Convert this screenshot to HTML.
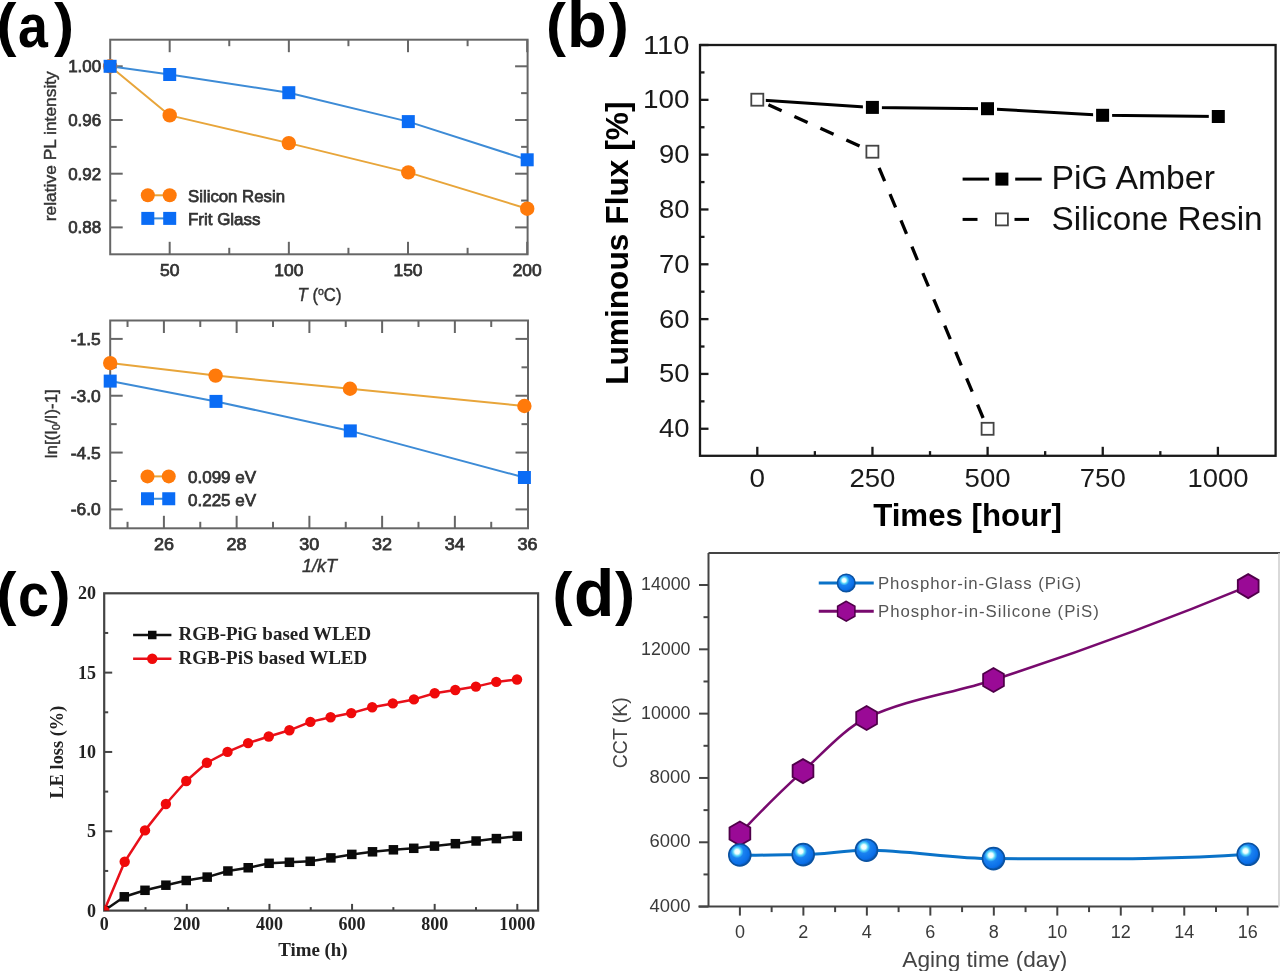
<!DOCTYPE html>
<html><head><meta charset="utf-8"><style>html,body{margin:0;padding:0;background:#fff;width:1280px;height:971px;overflow:hidden}svg{display:block;filter:blur(0.5px)}</style></head>
<body><svg width="1280" height="971" viewBox="0 0 1280 971"><defs><clipPath id="clipc"><rect x="104.2" y="593.3" width="433.9" height="317.3"/></clipPath><radialGradient id="sph" cx="0.38" cy="0.35" r="0.65">
<stop offset="0" stop-color="#ffffff"/><stop offset="0.16" stop-color="#e8ffff"/><stop offset="0.3" stop-color="#50d0f8"/><stop offset="0.45" stop-color="#1a82f0"/><stop offset="0.85" stop-color="#0a6ee8"/><stop offset="1" stop-color="#0a58b8"/></radialGradient></defs>
<text transform="translate(-3.6,45.4) scale(1.0,1)" font-family="Liberation Sans" font-weight="bold" font-size="60" fill="#000">(</text>
<text transform="translate(17.9,47.3) scale(0.88,1)" font-family="Liberation Sans" font-weight="bold" font-size="61" fill="#000">a</text>
<text transform="translate(53.9,45.4) scale(1.0,1)" font-family="Liberation Sans" font-weight="bold" font-size="60" fill="#000">)</text>
<text transform="translate(546,45.4) scale(1.0,1)" font-family="Liberation Sans" font-weight="bold" font-size="60" fill="#000">(</text>
<text transform="translate(567,46.9) scale(1.0,1)" font-family="Liberation Sans" font-weight="bold" font-size="65" fill="#000">b</text>
<text transform="translate(608.75,45.4) scale(1.0,1)" font-family="Liberation Sans" font-weight="bold" font-size="60" fill="#000">)</text>
<text transform="translate(-3.6,614.3) scale(1.0,1)" font-family="Liberation Sans" font-weight="bold" font-size="60" fill="#000">(</text>
<text transform="translate(18.1,616.3) scale(0.9,1)" font-family="Liberation Sans" font-weight="bold" font-size="62" fill="#000">c</text>
<text transform="translate(50.4,614.3) scale(1.0,1)" font-family="Liberation Sans" font-weight="bold" font-size="60" fill="#000">)</text>
<text transform="translate(552.5,614.3) scale(1.0,1)" font-family="Liberation Sans" font-weight="bold" font-size="60" fill="#000">(</text>
<text transform="translate(574,615.9) scale(1.0,1)" font-family="Liberation Sans" font-weight="bold" font-size="66" fill="#000">d</text>
<text transform="translate(615,614.3) scale(1.0,1)" font-family="Liberation Sans" font-weight="bold" font-size="60" fill="#000">)</text>
<rect x="110.2" y="39.7" width="417.4" height="214.6" fill="none" stroke="#666" stroke-width="2"/>
<line x1="169.68" y1="254.3" x2="169.68" y2="241.8" stroke="#666" stroke-width="2" />
<line x1="169.68" y1="39.7" x2="169.68" y2="52.2" stroke="#666" stroke-width="2" />
<line x1="288.85" y1="254.3" x2="288.85" y2="241.8" stroke="#666" stroke-width="2" />
<line x1="288.85" y1="39.7" x2="288.85" y2="52.2" stroke="#666" stroke-width="2" />
<line x1="408.01" y1="254.3" x2="408.01" y2="241.8" stroke="#666" stroke-width="2" />
<line x1="408.01" y1="39.7" x2="408.01" y2="52.2" stroke="#666" stroke-width="2" />
<line x1="527.18" y1="254.3" x2="527.18" y2="241.8" stroke="#666" stroke-width="2" />
<line x1="527.18" y1="39.7" x2="527.18" y2="52.2" stroke="#666" stroke-width="2" />
<line x1="229.26" y1="254.3" x2="229.26" y2="247.8" stroke="#666" stroke-width="2" />
<line x1="229.26" y1="39.7" x2="229.26" y2="46.2" stroke="#666" stroke-width="2" />
<line x1="348.43" y1="254.3" x2="348.43" y2="247.8" stroke="#666" stroke-width="2" />
<line x1="348.43" y1="39.7" x2="348.43" y2="46.2" stroke="#666" stroke-width="2" />
<line x1="467.6" y1="254.3" x2="467.6" y2="247.8" stroke="#666" stroke-width="2" />
<line x1="467.6" y1="39.7" x2="467.6" y2="46.2" stroke="#666" stroke-width="2" />
<line x1="110.2" y1="227.4" x2="122.7" y2="227.4" stroke="#666" stroke-width="2" />
<line x1="527.6" y1="227.4" x2="515.1" y2="227.4" stroke="#666" stroke-width="2" />
<line x1="110.2" y1="173.7" x2="122.7" y2="173.7" stroke="#666" stroke-width="2" />
<line x1="527.6" y1="173.7" x2="515.1" y2="173.7" stroke="#666" stroke-width="2" />
<line x1="110.2" y1="120" x2="122.7" y2="120" stroke="#666" stroke-width="2" />
<line x1="527.6" y1="120" x2="515.1" y2="120" stroke="#666" stroke-width="2" />
<line x1="110.2" y1="66.3" x2="122.7" y2="66.3" stroke="#666" stroke-width="2" />
<line x1="527.6" y1="66.3" x2="515.1" y2="66.3" stroke="#666" stroke-width="2" />
<line x1="110.2" y1="200.55" x2="116.7" y2="200.55" stroke="#666" stroke-width="2" />
<line x1="527.6" y1="200.55" x2="521.1" y2="200.55" stroke="#666" stroke-width="2" />
<line x1="110.2" y1="146.85" x2="116.7" y2="146.85" stroke="#666" stroke-width="2" />
<line x1="527.6" y1="146.85" x2="521.1" y2="146.85" stroke="#666" stroke-width="2" />
<line x1="110.2" y1="93.15" x2="116.7" y2="93.15" stroke="#666" stroke-width="2" />
<line x1="527.6" y1="93.15" x2="521.1" y2="93.15" stroke="#666" stroke-width="2" />
<text x="101.2" y="233.4" font-family="Liberation Sans" font-size="16.8" fill="#333" text-anchor="end" font-weight="normal" textLength="33" lengthAdjust="spacingAndGlyphs" stroke="#333" stroke-width="0.75">0.88</text>
<text x="101.2" y="179.7" font-family="Liberation Sans" font-size="16.8" fill="#333" text-anchor="end" font-weight="normal" textLength="33" lengthAdjust="spacingAndGlyphs" stroke="#333" stroke-width="0.75">0.92</text>
<text x="101.2" y="126" font-family="Liberation Sans" font-size="16.8" fill="#333" text-anchor="end" font-weight="normal" textLength="33" lengthAdjust="spacingAndGlyphs" stroke="#333" stroke-width="0.75">0.96</text>
<text x="101.2" y="72.3" font-family="Liberation Sans" font-size="16.8" fill="#333" text-anchor="end" font-weight="normal" textLength="33" lengthAdjust="spacingAndGlyphs" stroke="#333" stroke-width="0.75">1.00</text>
<text x="169.68" y="275.5" font-family="Liberation Sans" font-size="16.8" fill="#333" text-anchor="middle" font-weight="normal" textLength="19.5" lengthAdjust="spacingAndGlyphs" stroke="#333" stroke-width="0.75">50</text>
<text x="288.85" y="275.5" font-family="Liberation Sans" font-size="16.8" fill="#333" text-anchor="middle" font-weight="normal" textLength="29" lengthAdjust="spacingAndGlyphs" stroke="#333" stroke-width="0.75">100</text>
<text x="408.01" y="275.5" font-family="Liberation Sans" font-size="16.8" fill="#333" text-anchor="middle" font-weight="normal" textLength="29" lengthAdjust="spacingAndGlyphs" stroke="#333" stroke-width="0.75">150</text>
<text x="527.18" y="275.5" font-family="Liberation Sans" font-size="16.8" fill="#333" text-anchor="middle" font-weight="normal" textLength="29" lengthAdjust="spacingAndGlyphs" stroke="#333" stroke-width="0.75">200</text>
<text x="297.5" y="301" font-family="Liberation Sans" font-size="17.5" fill="#333" stroke="#333" stroke-width="0.4" textLength="44" lengthAdjust="spacingAndGlyphs"><tspan font-style="italic">T</tspan> (<tspan font-size="11" dy="-6">o</tspan><tspan dy="6">C)</tspan></text>
<text transform="translate(55.5,146.2) rotate(-90)" x="0" y="0" font-family="Liberation Sans" font-size="16" fill="#333" text-anchor="middle" font-weight="normal" textLength="150" lengthAdjust="spacingAndGlyphs" stroke="#333" stroke-width="0.4">relative PL intensity</text>
<polyline points="110.1,66.3 169.7,115.4 288.8,143.1 408.3,172.4 527.2,208.7" fill="none" stroke="#e8a53a" stroke-width="2" stroke-linejoin="round" />
<polyline points="110.1,66.3 169.7,74.5 288.8,92.7 408.3,121.6 527.2,159.8" fill="none" stroke="#3d8bd6" stroke-width="2" stroke-linejoin="round" />
<circle cx="110.1" cy="66.3" r="7.2" fill="#ff7a0a" stroke="none" stroke-width="0" />
<circle cx="169.7" cy="115.4" r="7.2" fill="#ff7a0a" stroke="none" stroke-width="0" />
<circle cx="288.8" cy="143.1" r="7.2" fill="#ff7a0a" stroke="none" stroke-width="0" />
<circle cx="408.3" cy="172.4" r="7.2" fill="#ff7a0a" stroke="none" stroke-width="0" />
<circle cx="527.2" cy="208.7" r="7.2" fill="#ff7a0a" stroke="none" stroke-width="0" />
<rect x="103.6" y="59.8" width="13" height="13" fill="#0a6cf5" stroke="none" stroke-width="0"/>
<rect x="163.2" y="68" width="13" height="13" fill="#0a6cf5" stroke="none" stroke-width="0"/>
<rect x="282.3" y="86.2" width="13" height="13" fill="#0a6cf5" stroke="none" stroke-width="0"/>
<rect x="401.8" y="115.1" width="13" height="13" fill="#0a6cf5" stroke="none" stroke-width="0"/>
<rect x="520.7" y="153.3" width="13" height="13" fill="#0a6cf5" stroke="none" stroke-width="0"/>
<line x1="147.8" y1="195.3" x2="169.7" y2="195.3" stroke="#e8a53a" stroke-width="2" />
<circle cx="147.8" cy="195.3" r="7" fill="#ff7a0a" stroke="none" stroke-width="0" />
<circle cx="169.7" cy="195.3" r="7" fill="#ff7a0a" stroke="none" stroke-width="0" />
<line x1="147.8" y1="218.4" x2="169.7" y2="218.4" stroke="#3d8bd6" stroke-width="2" />
<rect x="141.3" y="211.9" width="13" height="13" fill="#0a6cf5" stroke="none" stroke-width="0"/>
<rect x="163.2" y="211.9" width="13" height="13" fill="#0a6cf5" stroke="none" stroke-width="0"/>
<text x="188" y="202" font-family="Liberation Sans" font-size="17" fill="#333" text-anchor="start" font-weight="normal" textLength="97" lengthAdjust="spacingAndGlyphs" stroke="#333" stroke-width="0.75">Silicon Resin</text>
<text x="188" y="225" font-family="Liberation Sans" font-size="17" fill="#333" text-anchor="start" font-weight="normal" textLength="72.5" lengthAdjust="spacingAndGlyphs" stroke="#333" stroke-width="0.75">Frit Glass</text>
<rect x="110.2" y="320.5" width="417.8" height="207.8" fill="none" stroke="#666" stroke-width="2"/>
<line x1="163.9" y1="528.3" x2="163.9" y2="515.8" stroke="#666" stroke-width="2" />
<line x1="163.9" y1="320.5" x2="163.9" y2="333" stroke="#666" stroke-width="2" />
<line x1="236.64" y1="528.3" x2="236.64" y2="515.8" stroke="#666" stroke-width="2" />
<line x1="236.64" y1="320.5" x2="236.64" y2="333" stroke="#666" stroke-width="2" />
<line x1="309.38" y1="528.3" x2="309.38" y2="515.8" stroke="#666" stroke-width="2" />
<line x1="309.38" y1="320.5" x2="309.38" y2="333" stroke="#666" stroke-width="2" />
<line x1="382.12" y1="528.3" x2="382.12" y2="515.8" stroke="#666" stroke-width="2" />
<line x1="382.12" y1="320.5" x2="382.12" y2="333" stroke="#666" stroke-width="2" />
<line x1="454.86" y1="528.3" x2="454.86" y2="515.8" stroke="#666" stroke-width="2" />
<line x1="454.86" y1="320.5" x2="454.86" y2="333" stroke="#666" stroke-width="2" />
<line x1="127.53" y1="528.3" x2="127.53" y2="521.8" stroke="#666" stroke-width="2" />
<line x1="127.53" y1="320.5" x2="127.53" y2="327" stroke="#666" stroke-width="2" />
<line x1="200.27" y1="528.3" x2="200.27" y2="521.8" stroke="#666" stroke-width="2" />
<line x1="200.27" y1="320.5" x2="200.27" y2="327" stroke="#666" stroke-width="2" />
<line x1="273.01" y1="528.3" x2="273.01" y2="521.8" stroke="#666" stroke-width="2" />
<line x1="273.01" y1="320.5" x2="273.01" y2="327" stroke="#666" stroke-width="2" />
<line x1="345.75" y1="528.3" x2="345.75" y2="521.8" stroke="#666" stroke-width="2" />
<line x1="345.75" y1="320.5" x2="345.75" y2="327" stroke="#666" stroke-width="2" />
<line x1="418.49" y1="528.3" x2="418.49" y2="521.8" stroke="#666" stroke-width="2" />
<line x1="418.49" y1="320.5" x2="418.49" y2="327" stroke="#666" stroke-width="2" />
<line x1="491.23" y1="528.3" x2="491.23" y2="521.8" stroke="#666" stroke-width="2" />
<line x1="491.23" y1="320.5" x2="491.23" y2="327" stroke="#666" stroke-width="2" />
<line x1="110.2" y1="338.9" x2="122.7" y2="338.9" stroke="#666" stroke-width="2" />
<line x1="528" y1="338.9" x2="515.5" y2="338.9" stroke="#666" stroke-width="2" />
<line x1="110.2" y1="395.73" x2="122.7" y2="395.73" stroke="#666" stroke-width="2" />
<line x1="528" y1="395.73" x2="515.5" y2="395.73" stroke="#666" stroke-width="2" />
<line x1="110.2" y1="452.57" x2="122.7" y2="452.57" stroke="#666" stroke-width="2" />
<line x1="528" y1="452.57" x2="515.5" y2="452.57" stroke="#666" stroke-width="2" />
<line x1="110.2" y1="509.4" x2="122.7" y2="509.4" stroke="#666" stroke-width="2" />
<line x1="528" y1="509.4" x2="515.5" y2="509.4" stroke="#666" stroke-width="2" />
<line x1="110.2" y1="367.32" x2="116.7" y2="367.32" stroke="#666" stroke-width="2" />
<line x1="528" y1="367.32" x2="521.5" y2="367.32" stroke="#666" stroke-width="2" />
<line x1="110.2" y1="424.15" x2="116.7" y2="424.15" stroke="#666" stroke-width="2" />
<line x1="528" y1="424.15" x2="521.5" y2="424.15" stroke="#666" stroke-width="2" />
<line x1="110.2" y1="480.99" x2="116.7" y2="480.99" stroke="#666" stroke-width="2" />
<line x1="528" y1="480.99" x2="521.5" y2="480.99" stroke="#666" stroke-width="2" />
<text x="100.8" y="344.9" font-family="Liberation Sans" font-size="16.8" fill="#333" text-anchor="end" font-weight="normal" textLength="30" lengthAdjust="spacingAndGlyphs" stroke="#333" stroke-width="0.75">-1.5</text>
<text x="100.8" y="401.73" font-family="Liberation Sans" font-size="16.8" fill="#333" text-anchor="end" font-weight="normal" textLength="30" lengthAdjust="spacingAndGlyphs" stroke="#333" stroke-width="0.75">-3.0</text>
<text x="100.8" y="458.57" font-family="Liberation Sans" font-size="16.8" fill="#333" text-anchor="end" font-weight="normal" textLength="30" lengthAdjust="spacingAndGlyphs" stroke="#333" stroke-width="0.75">-4.5</text>
<text x="100.8" y="515.4" font-family="Liberation Sans" font-size="16.8" fill="#333" text-anchor="end" font-weight="normal" textLength="30" lengthAdjust="spacingAndGlyphs" stroke="#333" stroke-width="0.75">-6.0</text>
<text x="163.9" y="549.8" font-family="Liberation Sans" font-size="16.8" fill="#333" text-anchor="middle" font-weight="normal" textLength="20" lengthAdjust="spacingAndGlyphs" stroke="#333" stroke-width="0.75">26</text>
<text x="236.64" y="549.8" font-family="Liberation Sans" font-size="16.8" fill="#333" text-anchor="middle" font-weight="normal" textLength="20" lengthAdjust="spacingAndGlyphs" stroke="#333" stroke-width="0.75">28</text>
<text x="309.38" y="549.8" font-family="Liberation Sans" font-size="16.8" fill="#333" text-anchor="middle" font-weight="normal" textLength="20" lengthAdjust="spacingAndGlyphs" stroke="#333" stroke-width="0.75">30</text>
<text x="382.12" y="549.8" font-family="Liberation Sans" font-size="16.8" fill="#333" text-anchor="middle" font-weight="normal" textLength="20" lengthAdjust="spacingAndGlyphs" stroke="#333" stroke-width="0.75">32</text>
<text x="454.86" y="549.8" font-family="Liberation Sans" font-size="16.8" fill="#333" text-anchor="middle" font-weight="normal" textLength="20" lengthAdjust="spacingAndGlyphs" stroke="#333" stroke-width="0.75">34</text>
<text x="527.6" y="549.8" font-family="Liberation Sans" font-size="16.8" fill="#333" text-anchor="middle" font-weight="normal" textLength="20" lengthAdjust="spacingAndGlyphs" stroke="#333" stroke-width="0.75">36</text>
<text x="302" y="572" font-family="Liberation Sans" font-style="italic" font-size="17.5" fill="#333" stroke="#333" stroke-width="0.4" textLength="35" lengthAdjust="spacingAndGlyphs">1/kT</text>
<text transform="translate(56.5,423.7) rotate(-90)" text-anchor="middle" font-family="Liberation Sans" font-size="16" fill="#333" stroke="#333" stroke-width="0.4" textLength="69" lengthAdjust="spacingAndGlyphs">ln[(I<tspan font-size="10" dy="3">0</tspan><tspan dy="-3">/I)-1]</tspan></text>
<polyline points="110.2,363.1 215.6,375.6 350,388.75 524.4,406" fill="none" stroke="#e8a53a" stroke-width="2" stroke-linejoin="round" />
<polyline points="110.2,381.1 216,401.4 350.3,430.9 524.4,477.5" fill="none" stroke="#3d8bd6" stroke-width="2" stroke-linejoin="round" />
<circle cx="110.2" cy="363.1" r="7.2" fill="#ff7a0a" stroke="none" stroke-width="0" />
<circle cx="215.6" cy="375.6" r="7.2" fill="#ff7a0a" stroke="none" stroke-width="0" />
<circle cx="350" cy="388.75" r="7.2" fill="#ff7a0a" stroke="none" stroke-width="0" />
<circle cx="524.4" cy="406" r="7.2" fill="#ff7a0a" stroke="none" stroke-width="0" />
<rect x="103.7" y="374.6" width="13" height="13" fill="#0a6cf5" stroke="none" stroke-width="0"/>
<rect x="209.5" y="394.9" width="13" height="13" fill="#0a6cf5" stroke="none" stroke-width="0"/>
<rect x="343.8" y="424.4" width="13" height="13" fill="#0a6cf5" stroke="none" stroke-width="0"/>
<rect x="517.9" y="471" width="13" height="13" fill="#0a6cf5" stroke="none" stroke-width="0"/>
<line x1="147.5" y1="476.4" x2="168.75" y2="476.4" stroke="#e8a53a" stroke-width="2" />
<circle cx="147.5" cy="476.4" r="7" fill="#ff7a0a" stroke="none" stroke-width="0" />
<circle cx="168.75" cy="476.4" r="7" fill="#ff7a0a" stroke="none" stroke-width="0" />
<line x1="147.5" y1="498.75" x2="168.75" y2="498.75" stroke="#3d8bd6" stroke-width="2" />
<rect x="141" y="492.25" width="13" height="13" fill="#0a6cf5" stroke="none" stroke-width="0"/>
<rect x="162.25" y="492.25" width="13" height="13" fill="#0a6cf5" stroke="none" stroke-width="0"/>
<text x="188" y="483" font-family="Liberation Sans" font-size="17" fill="#333" text-anchor="start" font-weight="normal" stroke="#333" stroke-width="0.75">0.099 eV</text>
<text x="188" y="505.5" font-family="Liberation Sans" font-size="17" fill="#333" text-anchor="start" font-weight="normal" stroke="#333" stroke-width="0.75">0.225 eV</text>
<rect x="700" y="45" width="575.6" height="410.8" fill="none" stroke="#1a1a1a" stroke-width="2.3"/>
<line x1="757.3" y1="455.8" x2="757.3" y2="446.8" stroke="#1a1a1a" stroke-width="2.3" />
<line x1="872.45" y1="455.8" x2="872.45" y2="446.8" stroke="#1a1a1a" stroke-width="2.3" />
<line x1="987.6" y1="455.8" x2="987.6" y2="446.8" stroke="#1a1a1a" stroke-width="2.3" />
<line x1="1102.75" y1="455.8" x2="1102.75" y2="446.8" stroke="#1a1a1a" stroke-width="2.3" />
<line x1="1217.9" y1="455.8" x2="1217.9" y2="446.8" stroke="#1a1a1a" stroke-width="2.3" />
<line x1="814.88" y1="455.8" x2="814.88" y2="451.1" stroke="#1a1a1a" stroke-width="2.3" />
<line x1="930.02" y1="455.8" x2="930.02" y2="451.1" stroke="#1a1a1a" stroke-width="2.3" />
<line x1="1045.17" y1="455.8" x2="1045.17" y2="451.1" stroke="#1a1a1a" stroke-width="2.3" />
<line x1="1160.33" y1="455.8" x2="1160.33" y2="451.1" stroke="#1a1a1a" stroke-width="2.3" />
<line x1="700" y1="428.75" x2="708.5" y2="428.75" stroke="#1a1a1a" stroke-width="2.3" />
<line x1="700" y1="373.93" x2="708.5" y2="373.93" stroke="#1a1a1a" stroke-width="2.3" />
<line x1="700" y1="319.11" x2="708.5" y2="319.11" stroke="#1a1a1a" stroke-width="2.3" />
<line x1="700" y1="264.29" x2="708.5" y2="264.29" stroke="#1a1a1a" stroke-width="2.3" />
<line x1="700" y1="209.47" x2="708.5" y2="209.47" stroke="#1a1a1a" stroke-width="2.3" />
<line x1="700" y1="154.65" x2="708.5" y2="154.65" stroke="#1a1a1a" stroke-width="2.3" />
<line x1="700" y1="99.83" x2="708.5" y2="99.83" stroke="#1a1a1a" stroke-width="2.3" />
<line x1="700" y1="45.01" x2="708.5" y2="45.01" stroke="#1a1a1a" stroke-width="2.3" />
<line x1="700" y1="401.34" x2="704.5" y2="401.34" stroke="#1a1a1a" stroke-width="2.3" />
<line x1="700" y1="346.52" x2="704.5" y2="346.52" stroke="#1a1a1a" stroke-width="2.3" />
<line x1="700" y1="291.7" x2="704.5" y2="291.7" stroke="#1a1a1a" stroke-width="2.3" />
<line x1="700" y1="236.88" x2="704.5" y2="236.88" stroke="#1a1a1a" stroke-width="2.3" />
<line x1="700" y1="182.06" x2="704.5" y2="182.06" stroke="#1a1a1a" stroke-width="2.3" />
<line x1="700" y1="127.24" x2="704.5" y2="127.24" stroke="#1a1a1a" stroke-width="2.3" />
<line x1="700" y1="72.42" x2="704.5" y2="72.42" stroke="#1a1a1a" stroke-width="2.3" />
<text x="689.5" y="437.25" font-family="Liberation Sans" font-size="26.5" fill="#1a1a1a" text-anchor="end" font-weight="normal" textLength="30.5" lengthAdjust="spacingAndGlyphs" >40</text>
<text x="689.5" y="382.43" font-family="Liberation Sans" font-size="26.5" fill="#1a1a1a" text-anchor="end" font-weight="normal" textLength="30.5" lengthAdjust="spacingAndGlyphs" >50</text>
<text x="689.5" y="327.61" font-family="Liberation Sans" font-size="26.5" fill="#1a1a1a" text-anchor="end" font-weight="normal" textLength="30.5" lengthAdjust="spacingAndGlyphs" >60</text>
<text x="689.5" y="272.79" font-family="Liberation Sans" font-size="26.5" fill="#1a1a1a" text-anchor="end" font-weight="normal" textLength="30.5" lengthAdjust="spacingAndGlyphs" >70</text>
<text x="689.5" y="217.97" font-family="Liberation Sans" font-size="26.5" fill="#1a1a1a" text-anchor="end" font-weight="normal" textLength="30.5" lengthAdjust="spacingAndGlyphs" >80</text>
<text x="689.5" y="163.15" font-family="Liberation Sans" font-size="26.5" fill="#1a1a1a" text-anchor="end" font-weight="normal" textLength="30.5" lengthAdjust="spacingAndGlyphs" >90</text>
<text x="689.5" y="108.33" font-family="Liberation Sans" font-size="26.5" fill="#1a1a1a" text-anchor="end" font-weight="normal" textLength="46.5" lengthAdjust="spacingAndGlyphs" >100</text>
<text x="689.5" y="53.51" font-family="Liberation Sans" font-size="26.5" fill="#1a1a1a" text-anchor="end" font-weight="normal" textLength="46.5" lengthAdjust="spacingAndGlyphs" >110</text>
<text x="757.3" y="486.5" font-family="Liberation Sans" font-size="26.5" fill="#1a1a1a" text-anchor="middle" font-weight="normal" textLength="15.5" lengthAdjust="spacingAndGlyphs" >0</text>
<text x="872.45" y="486.5" font-family="Liberation Sans" font-size="26.5" fill="#1a1a1a" text-anchor="middle" font-weight="normal" textLength="46" lengthAdjust="spacingAndGlyphs" >250</text>
<text x="987.6" y="486.5" font-family="Liberation Sans" font-size="26.5" fill="#1a1a1a" text-anchor="middle" font-weight="normal" textLength="46" lengthAdjust="spacingAndGlyphs" >500</text>
<text x="1102.75" y="486.5" font-family="Liberation Sans" font-size="26.5" fill="#1a1a1a" text-anchor="middle" font-weight="normal" textLength="46" lengthAdjust="spacingAndGlyphs" >750</text>
<text x="1217.9" y="486.5" font-family="Liberation Sans" font-size="26.5" fill="#1a1a1a" text-anchor="middle" font-weight="normal" textLength="61" lengthAdjust="spacingAndGlyphs" >1000</text>
<text x="967.5" y="526" font-family="Liberation Sans" font-size="31" fill="#000" text-anchor="middle" font-weight="bold" textLength="188.7" lengthAdjust="spacingAndGlyphs" >Times [hour]</text>
<text transform="translate(627.5,243.2) rotate(-90)" x="0" y="0" font-family="Liberation Sans" font-size="30.5" fill="#000" text-anchor="middle" font-weight="bold" textLength="283.5" lengthAdjust="spacingAndGlyphs" >Luminous Flux [%]</text>
<polyline points="757.3,99.7 872.4,107.4 987.5,108.7 1102.6,115.3 1218.3,116.5" fill="none" stroke="#000" stroke-width="3" stroke-linejoin="round" />
<line x1="757.3" y1="99.7" x2="872.4" y2="151.7" stroke="#000" stroke-width="3.3" stroke-dasharray="14.5 14" stroke-dashoffset="16.3"/>
<line x1="872.4" y1="151.7" x2="987.6" y2="428.8" stroke="#000" stroke-width="3.3" stroke-dasharray="14.5 14" stroke-dashoffset="11.1"/>
<rect x="862.9" y="97.9" width="19" height="19" fill="#fff" stroke="none" stroke-width="0"/>
<rect x="865.9" y="100.9" width="13" height="13" fill="#000" stroke="none" stroke-width="0"/>
<rect x="978" y="99.2" width="19" height="19" fill="#fff" stroke="none" stroke-width="0"/>
<rect x="981" y="102.2" width="13" height="13" fill="#000" stroke="none" stroke-width="0"/>
<rect x="1093.1" y="105.8" width="19" height="19" fill="#fff" stroke="none" stroke-width="0"/>
<rect x="1096.1" y="108.8" width="13" height="13" fill="#000" stroke="none" stroke-width="0"/>
<rect x="1208.8" y="107" width="19" height="19" fill="#fff" stroke="none" stroke-width="0"/>
<rect x="1211.8" y="110" width="13" height="13" fill="#000" stroke="none" stroke-width="0"/>
<rect x="748.8" y="91.2" width="17" height="17" fill="#fff" stroke="none" stroke-width="0"/>
<rect x="751.3" y="93.7" width="12" height="12" fill="#fff" stroke="#444" stroke-width="1.8"/>
<rect x="863.9" y="143.2" width="17" height="17" fill="#fff" stroke="none" stroke-width="0"/>
<rect x="866.4" y="145.7" width="12" height="12" fill="#fff" stroke="#444" stroke-width="1.8"/>
<rect x="979.1" y="420.3" width="17" height="17" fill="#fff" stroke="none" stroke-width="0"/>
<rect x="981.6" y="422.8" width="12" height="12" fill="#fff" stroke="#444" stroke-width="1.8"/>
<line x1="962.6" y1="179.1" x2="989.1" y2="179.1" stroke="#000" stroke-width="3" />
<line x1="1015.2" y1="179.1" x2="1041.7" y2="179.1" stroke="#000" stroke-width="3" />
<rect x="995.4" y="172.6" width="13" height="13" fill="#000" stroke="none" stroke-width="0"/>
<line x1="962.6" y1="219.4" x2="977.5" y2="219.4" stroke="#000" stroke-width="3" />
<line x1="1014.5" y1="219.4" x2="1029" y2="219.4" stroke="#000" stroke-width="3" />
<rect x="995.9" y="213.4" width="12" height="12" fill="#fff" stroke="#444" stroke-width="1.8"/>
<text x="1051.6" y="189.4" font-family="Liberation Sans" font-size="33.5" fill="#111" text-anchor="start" font-weight="normal" textLength="163.3" lengthAdjust="spacingAndGlyphs" >PiG Amber</text>
<text x="1051.6" y="230" font-family="Liberation Sans" font-size="33.5" fill="#111" text-anchor="start" font-weight="normal" textLength="211" lengthAdjust="spacingAndGlyphs" >Silicone Resin</text>
<rect x="104.2" y="593.3" width="433.9" height="317.3" fill="none" stroke="#444" stroke-width="2.2"/>
<line x1="186.82" y1="910.6" x2="186.82" y2="903.9" stroke="#444" stroke-width="2" />
<line x1="269.44" y1="910.6" x2="269.44" y2="903.9" stroke="#444" stroke-width="2" />
<line x1="352.06" y1="910.6" x2="352.06" y2="903.9" stroke="#444" stroke-width="2" />
<line x1="434.68" y1="910.6" x2="434.68" y2="903.9" stroke="#444" stroke-width="2" />
<line x1="517.3" y1="910.6" x2="517.3" y2="903.9" stroke="#444" stroke-width="2" />
<line x1="145.51" y1="910.6" x2="145.51" y2="907.1" stroke="#444" stroke-width="2" />
<line x1="228.13" y1="910.6" x2="228.13" y2="907.1" stroke="#444" stroke-width="2" />
<line x1="310.75" y1="910.6" x2="310.75" y2="907.1" stroke="#444" stroke-width="2" />
<line x1="393.37" y1="910.6" x2="393.37" y2="907.1" stroke="#444" stroke-width="2" />
<line x1="475.99" y1="910.6" x2="475.99" y2="907.1" stroke="#444" stroke-width="2" />
<line x1="104.2" y1="831.27" x2="112.2" y2="831.27" stroke="#444" stroke-width="2" />
<line x1="104.2" y1="751.95" x2="112.2" y2="751.95" stroke="#444" stroke-width="2" />
<line x1="104.2" y1="672.62" x2="112.2" y2="672.62" stroke="#444" stroke-width="2" />
<line x1="104.2" y1="870.94" x2="108.2" y2="870.94" stroke="#444" stroke-width="2" />
<line x1="104.2" y1="791.61" x2="108.2" y2="791.61" stroke="#444" stroke-width="2" />
<line x1="104.2" y1="712.29" x2="108.2" y2="712.29" stroke="#444" stroke-width="2" />
<line x1="104.2" y1="632.96" x2="108.2" y2="632.96" stroke="#444" stroke-width="2" />
<text x="96" y="916.6" font-family="Liberation Serif" font-size="18" fill="#222" text-anchor="end" font-weight="bold" >0</text>
<text x="96" y="837.27" font-family="Liberation Serif" font-size="18" fill="#222" text-anchor="end" font-weight="bold" >5</text>
<text x="96" y="757.95" font-family="Liberation Serif" font-size="18" fill="#222" text-anchor="end" font-weight="bold" >10</text>
<text x="96" y="678.62" font-family="Liberation Serif" font-size="18" fill="#222" text-anchor="end" font-weight="bold" >15</text>
<text x="96" y="599.3" font-family="Liberation Serif" font-size="18" fill="#222" text-anchor="end" font-weight="bold" >20</text>
<text x="104.2" y="930.3" font-family="Liberation Serif" font-size="18" fill="#222" text-anchor="middle" font-weight="bold" >0</text>
<text x="186.82" y="930.3" font-family="Liberation Serif" font-size="18" fill="#222" text-anchor="middle" font-weight="bold" >200</text>
<text x="269.44" y="930.3" font-family="Liberation Serif" font-size="18" fill="#222" text-anchor="middle" font-weight="bold" >400</text>
<text x="352.06" y="930.3" font-family="Liberation Serif" font-size="18" fill="#222" text-anchor="middle" font-weight="bold" >600</text>
<text x="434.68" y="930.3" font-family="Liberation Serif" font-size="18" fill="#222" text-anchor="middle" font-weight="bold" >800</text>
<text x="517.3" y="930.3" font-family="Liberation Serif" font-size="18" fill="#222" text-anchor="middle" font-weight="bold" >1000</text>
<text x="312.9" y="955.5" font-family="Liberation Serif" font-size="18.8" fill="#222" text-anchor="middle" font-weight="bold" textLength="69.5" lengthAdjust="spacingAndGlyphs" >Time (h)</text>
<text transform="translate(63,752.1) rotate(-90)" x="0" y="0" font-family="Liberation Serif" font-size="18.5" fill="#222" text-anchor="middle" font-weight="bold" textLength="92.7" lengthAdjust="spacingAndGlyphs" >LE loss (%)</text>
<g clip-path="url(#clipc)">
<polyline points="104.2,910.6 124.3,896.8 145,890.3 165.9,885.2 186.25,880.5 207.2,877.1 227.9,871 248.2,867.75 269.1,863.3 289.4,862.3 310.2,861.3 330.9,857.9 351.8,854.4 372.5,851.8 393.4,849.8 413.75,848.3 434.5,846.1 455.4,843.7 476.1,841 496.4,838.6 517.3,836.2" fill="none" stroke="#111" stroke-width="2.5" stroke-linejoin="round" />
<polyline points="104.2,910.6 124.7,861.7 145,830.4 165.9,804 186.25,781 206.9,762.75 227.5,751.9 248.1,743.1 268.75,736.5 289.4,730.3 310.4,721.9 330.6,717.2 351.25,713.1 372.2,707.2 392.8,703.4 413.9,699.4 434.7,693.3 455.3,690 475.9,686.6 496.25,681.9 517,679.5" fill="none" stroke="#e8101a" stroke-width="2.5" stroke-linejoin="round" />
<rect x="99.45" y="905.85" width="9.5" height="9.5" fill="#0a0a0a" stroke="none" stroke-width="0"/>
<rect x="119.55" y="892.05" width="9.5" height="9.5" fill="#0a0a0a" stroke="none" stroke-width="0"/>
<rect x="140.25" y="885.55" width="9.5" height="9.5" fill="#0a0a0a" stroke="none" stroke-width="0"/>
<rect x="161.15" y="880.45" width="9.5" height="9.5" fill="#0a0a0a" stroke="none" stroke-width="0"/>
<rect x="181.5" y="875.75" width="9.5" height="9.5" fill="#0a0a0a" stroke="none" stroke-width="0"/>
<rect x="202.45" y="872.35" width="9.5" height="9.5" fill="#0a0a0a" stroke="none" stroke-width="0"/>
<rect x="223.15" y="866.25" width="9.5" height="9.5" fill="#0a0a0a" stroke="none" stroke-width="0"/>
<rect x="243.45" y="863" width="9.5" height="9.5" fill="#0a0a0a" stroke="none" stroke-width="0"/>
<rect x="264.35" y="858.55" width="9.5" height="9.5" fill="#0a0a0a" stroke="none" stroke-width="0"/>
<rect x="284.65" y="857.55" width="9.5" height="9.5" fill="#0a0a0a" stroke="none" stroke-width="0"/>
<rect x="305.45" y="856.55" width="9.5" height="9.5" fill="#0a0a0a" stroke="none" stroke-width="0"/>
<rect x="326.15" y="853.15" width="9.5" height="9.5" fill="#0a0a0a" stroke="none" stroke-width="0"/>
<rect x="347.05" y="849.65" width="9.5" height="9.5" fill="#0a0a0a" stroke="none" stroke-width="0"/>
<rect x="367.75" y="847.05" width="9.5" height="9.5" fill="#0a0a0a" stroke="none" stroke-width="0"/>
<rect x="388.65" y="845.05" width="9.5" height="9.5" fill="#0a0a0a" stroke="none" stroke-width="0"/>
<rect x="409" y="843.55" width="9.5" height="9.5" fill="#0a0a0a" stroke="none" stroke-width="0"/>
<rect x="429.75" y="841.35" width="9.5" height="9.5" fill="#0a0a0a" stroke="none" stroke-width="0"/>
<rect x="450.65" y="838.95" width="9.5" height="9.5" fill="#0a0a0a" stroke="none" stroke-width="0"/>
<rect x="471.35" y="836.25" width="9.5" height="9.5" fill="#0a0a0a" stroke="none" stroke-width="0"/>
<rect x="491.65" y="833.85" width="9.5" height="9.5" fill="#0a0a0a" stroke="none" stroke-width="0"/>
<rect x="512.55" y="831.45" width="9.5" height="9.5" fill="#0a0a0a" stroke="none" stroke-width="0"/>
<circle cx="104.2" cy="910.6" r="5.2" fill="#f00a0a" stroke="none" stroke-width="0" />
<circle cx="124.7" cy="861.7" r="5.2" fill="#f00a0a" stroke="none" stroke-width="0" />
<circle cx="145" cy="830.4" r="5.2" fill="#f00a0a" stroke="none" stroke-width="0" />
<circle cx="165.9" cy="804" r="5.2" fill="#f00a0a" stroke="none" stroke-width="0" />
<circle cx="186.25" cy="781" r="5.2" fill="#f00a0a" stroke="none" stroke-width="0" />
<circle cx="206.9" cy="762.75" r="5.2" fill="#f00a0a" stroke="none" stroke-width="0" />
<circle cx="227.5" cy="751.9" r="5.2" fill="#f00a0a" stroke="none" stroke-width="0" />
<circle cx="248.1" cy="743.1" r="5.2" fill="#f00a0a" stroke="none" stroke-width="0" />
<circle cx="268.75" cy="736.5" r="5.2" fill="#f00a0a" stroke="none" stroke-width="0" />
<circle cx="289.4" cy="730.3" r="5.2" fill="#f00a0a" stroke="none" stroke-width="0" />
<circle cx="310.4" cy="721.9" r="5.2" fill="#f00a0a" stroke="none" stroke-width="0" />
<circle cx="330.6" cy="717.2" r="5.2" fill="#f00a0a" stroke="none" stroke-width="0" />
<circle cx="351.25" cy="713.1" r="5.2" fill="#f00a0a" stroke="none" stroke-width="0" />
<circle cx="372.2" cy="707.2" r="5.2" fill="#f00a0a" stroke="none" stroke-width="0" />
<circle cx="392.8" cy="703.4" r="5.2" fill="#f00a0a" stroke="none" stroke-width="0" />
<circle cx="413.9" cy="699.4" r="5.2" fill="#f00a0a" stroke="none" stroke-width="0" />
<circle cx="434.7" cy="693.3" r="5.2" fill="#f00a0a" stroke="none" stroke-width="0" />
<circle cx="455.3" cy="690" r="5.2" fill="#f00a0a" stroke="none" stroke-width="0" />
<circle cx="475.9" cy="686.6" r="5.2" fill="#f00a0a" stroke="none" stroke-width="0" />
<circle cx="496.25" cy="681.9" r="5.2" fill="#f00a0a" stroke="none" stroke-width="0" />
<circle cx="517" cy="679.5" r="5.2" fill="#f00a0a" stroke="none" stroke-width="0" />
</g>
<line x1="133.1" y1="635" x2="171.4" y2="635" stroke="#111" stroke-width="2.5" />
<rect x="148" y="630.75" width="8.5" height="8.5" fill="#0a0a0a" stroke="none" stroke-width="0"/>
<line x1="133.1" y1="658.7" x2="171.4" y2="658.7" stroke="#e8101a" stroke-width="2.5" />
<circle cx="152.25" cy="658.7" r="5.2" fill="#f00a0a" stroke="none" stroke-width="0" />
<text x="178.6" y="640.2" font-family="Liberation Serif" font-size="19" fill="#222" text-anchor="start" font-weight="bold" textLength="192.5" lengthAdjust="spacingAndGlyphs" >RGB-PiG based WLED</text>
<text x="178.6" y="664.2" font-family="Liberation Serif" font-size="19" fill="#222" text-anchor="start" font-weight="bold" textLength="188.6" lengthAdjust="spacingAndGlyphs" >RGB-PiS based WLED</text>
<line x1="708.5" y1="552.9" x2="708.5" y2="906.6" stroke="#444" stroke-width="2" />
<line x1="698.4" y1="906.6" x2="1278.5" y2="906.6" stroke="#444" stroke-width="2" />
<line x1="708.5" y1="552.9" x2="1280" y2="552.9" stroke="#444" stroke-width="2" />
<line x1="1279" y1="552.9" x2="1279" y2="906.6" stroke="#ccc" stroke-width="1.5" />
<line x1="739.9" y1="906.6" x2="739.9" y2="915.6" stroke="#444" stroke-width="2" />
<line x1="803.38" y1="906.6" x2="803.38" y2="915.6" stroke="#444" stroke-width="2" />
<line x1="866.86" y1="906.6" x2="866.86" y2="915.6" stroke="#444" stroke-width="2" />
<line x1="930.34" y1="906.6" x2="930.34" y2="915.6" stroke="#444" stroke-width="2" />
<line x1="993.82" y1="906.6" x2="993.82" y2="915.6" stroke="#444" stroke-width="2" />
<line x1="1057.3" y1="906.6" x2="1057.3" y2="915.6" stroke="#444" stroke-width="2" />
<line x1="1120.78" y1="906.6" x2="1120.78" y2="915.6" stroke="#444" stroke-width="2" />
<line x1="1184.26" y1="906.6" x2="1184.26" y2="915.6" stroke="#444" stroke-width="2" />
<line x1="1247.74" y1="906.6" x2="1247.74" y2="915.6" stroke="#444" stroke-width="2" />
<line x1="771.64" y1="906.6" x2="771.64" y2="912.1" stroke="#444" stroke-width="2" />
<line x1="835.12" y1="906.6" x2="835.12" y2="912.1" stroke="#444" stroke-width="2" />
<line x1="898.6" y1="906.6" x2="898.6" y2="912.1" stroke="#444" stroke-width="2" />
<line x1="962.08" y1="906.6" x2="962.08" y2="912.1" stroke="#444" stroke-width="2" />
<line x1="1025.56" y1="906.6" x2="1025.56" y2="912.1" stroke="#444" stroke-width="2" />
<line x1="1089.04" y1="906.6" x2="1089.04" y2="912.1" stroke="#444" stroke-width="2" />
<line x1="1152.52" y1="906.6" x2="1152.52" y2="912.1" stroke="#444" stroke-width="2" />
<line x1="1216" y1="906.6" x2="1216" y2="912.1" stroke="#444" stroke-width="2" />
<line x1="708.5" y1="906.6" x2="699" y2="906.6" stroke="#444" stroke-width="2" />
<line x1="708.5" y1="842.28" x2="699" y2="842.28" stroke="#444" stroke-width="2" />
<line x1="708.5" y1="777.96" x2="699" y2="777.96" stroke="#444" stroke-width="2" />
<line x1="708.5" y1="713.64" x2="699" y2="713.64" stroke="#444" stroke-width="2" />
<line x1="708.5" y1="649.32" x2="699" y2="649.32" stroke="#444" stroke-width="2" />
<line x1="708.5" y1="585" x2="699" y2="585" stroke="#444" stroke-width="2" />
<line x1="708.5" y1="874.44" x2="703.5" y2="874.44" stroke="#444" stroke-width="2" />
<line x1="708.5" y1="810.12" x2="703.5" y2="810.12" stroke="#444" stroke-width="2" />
<line x1="708.5" y1="745.8" x2="703.5" y2="745.8" stroke="#444" stroke-width="2" />
<line x1="708.5" y1="681.48" x2="703.5" y2="681.48" stroke="#444" stroke-width="2" />
<line x1="708.5" y1="617.16" x2="703.5" y2="617.16" stroke="#444" stroke-width="2" />
<text x="690.5" y="911.8" font-family="Liberation Sans" font-size="18" fill="#3a3a3a" text-anchor="end" font-weight="normal" textLength="41" lengthAdjust="spacingAndGlyphs" >4000</text>
<text x="690.5" y="847.48" font-family="Liberation Sans" font-size="18" fill="#3a3a3a" text-anchor="end" font-weight="normal" textLength="41" lengthAdjust="spacingAndGlyphs" >6000</text>
<text x="690.5" y="783.16" font-family="Liberation Sans" font-size="18" fill="#3a3a3a" text-anchor="end" font-weight="normal" textLength="41" lengthAdjust="spacingAndGlyphs" >8000</text>
<text x="690.5" y="718.84" font-family="Liberation Sans" font-size="18" fill="#3a3a3a" text-anchor="end" font-weight="normal" textLength="49.5" lengthAdjust="spacingAndGlyphs" >10000</text>
<text x="690.5" y="654.52" font-family="Liberation Sans" font-size="18" fill="#3a3a3a" text-anchor="end" font-weight="normal" textLength="49.5" lengthAdjust="spacingAndGlyphs" >12000</text>
<text x="690.5" y="590.2" font-family="Liberation Sans" font-size="18" fill="#3a3a3a" text-anchor="end" font-weight="normal" textLength="49.5" lengthAdjust="spacingAndGlyphs" >14000</text>
<text x="739.9" y="938" font-family="Liberation Sans" font-size="18" fill="#3a3a3a" text-anchor="middle" font-weight="normal" >0</text>
<text x="803.38" y="938" font-family="Liberation Sans" font-size="18" fill="#3a3a3a" text-anchor="middle" font-weight="normal" >2</text>
<text x="866.86" y="938" font-family="Liberation Sans" font-size="18" fill="#3a3a3a" text-anchor="middle" font-weight="normal" >4</text>
<text x="930.34" y="938" font-family="Liberation Sans" font-size="18" fill="#3a3a3a" text-anchor="middle" font-weight="normal" >6</text>
<text x="993.82" y="938" font-family="Liberation Sans" font-size="18" fill="#3a3a3a" text-anchor="middle" font-weight="normal" >8</text>
<text x="1057.3" y="938" font-family="Liberation Sans" font-size="18" fill="#3a3a3a" text-anchor="middle" font-weight="normal" >10</text>
<text x="1120.78" y="938" font-family="Liberation Sans" font-size="18" fill="#3a3a3a" text-anchor="middle" font-weight="normal" >12</text>
<text x="1184.26" y="938" font-family="Liberation Sans" font-size="18" fill="#3a3a3a" text-anchor="middle" font-weight="normal" >14</text>
<text x="1247.74" y="938" font-family="Liberation Sans" font-size="18" fill="#3a3a3a" text-anchor="middle" font-weight="normal" >16</text>
<text x="984.8" y="966.5" font-family="Liberation Sans" font-size="21.5" fill="#444" text-anchor="middle" font-weight="normal" textLength="165" lengthAdjust="spacingAndGlyphs" >Aging time (day)</text>
<text transform="translate(626.7,732.7) rotate(-90)" x="0" y="0" font-family="Liberation Sans" font-size="21" fill="#444" text-anchor="middle" font-weight="normal" textLength="71" lengthAdjust="spacingAndGlyphs" >CCT (K)</text>
<path d="M739.9,833.5 C760.93,811.09 781.97,790.15 803,771.1 C824.2,751.9 845.4,727.86 866.6,718 C908.9,698.33 951.2,693.82 993.5,680 C1078.4,652.26 1163.3,621.32 1248.2,586.1" fill="none" stroke="#780a6e" stroke-width="2.6" stroke-linejoin="round"/>
<path d="M739.8,855 C760.93,855.54 782.07,854.84 803.2,854.6 C824.3,854.36 845.4,850.2 866.5,850.2 C908.83,850.2 951.17,858.6 993.5,858.6 C1078.4,858.6 1163.3,860.44 1248.2,854.3" fill="none" stroke="#0a72c8" stroke-width="3" stroke-linejoin="round"/>
<polygon points="739.9,821.5 729.51,827.5 729.51,839.5 739.9,845.5 750.29,839.5 750.29,827.5" fill="#9a0a96" stroke="#50004a" stroke-width="1.8"/>
<polygon points="803,759.1 792.61,765.1 792.61,777.1 803,783.1 813.39,777.1 813.39,765.1" fill="#9a0a96" stroke="#50004a" stroke-width="1.8"/>
<polygon points="866.6,706 856.21,712 856.21,724 866.6,730 876.99,724 876.99,712" fill="#9a0a96" stroke="#50004a" stroke-width="1.8"/>
<polygon points="993.5,668 983.11,674 983.11,686 993.5,692 1003.89,686 1003.89,674" fill="#9a0a96" stroke="#50004a" stroke-width="1.8"/>
<polygon points="1248.2,574.1 1237.81,580.1 1237.81,592.1 1248.2,598.1 1258.59,592.1 1258.59,580.1" fill="#9a0a96" stroke="#50004a" stroke-width="1.8"/>
<circle cx="739.8" cy="855" r="11" fill="url(#sph)" stroke="#0a52a0" stroke-width="1.6" />
<circle cx="803.2" cy="854.6" r="11" fill="url(#sph)" stroke="#0a52a0" stroke-width="1.6" />
<circle cx="866.5" cy="850.2" r="11" fill="url(#sph)" stroke="#0a52a0" stroke-width="1.6" />
<circle cx="993.5" cy="858.6" r="11" fill="url(#sph)" stroke="#0a52a0" stroke-width="1.6" />
<circle cx="1248.2" cy="854.3" r="11" fill="url(#sph)" stroke="#0a52a0" stroke-width="1.6" />
<line x1="818.75" y1="583" x2="873.75" y2="583" stroke="#0a72c8" stroke-width="3" />
<circle cx="846.25" cy="583" r="8.8" fill="url(#sph)" stroke="#0a52a0" stroke-width="1.6" />
<line x1="818.75" y1="611.25" x2="873.75" y2="611.25" stroke="#780a6e" stroke-width="3" />
<polygon points="846.25,601.25 837.59,606.25 837.59,616.25 846.25,621.25 854.91,616.25 854.91,606.25" fill="#9a0a96" stroke="#50004a" stroke-width="1.5"/>
<text x="878" y="588.5" font-family="Liberation Sans" font-size="16.8" fill="#555" textLength="203" lengthAdjust="spacing">Phosphor-in-Glass (PiG)</text>
<text x="878" y="617" font-family="Liberation Sans" font-size="16.8" fill="#555" textLength="220.75" lengthAdjust="spacing">Phosphor-in-Silicone (PiS)</text>
</svg></body></html>
